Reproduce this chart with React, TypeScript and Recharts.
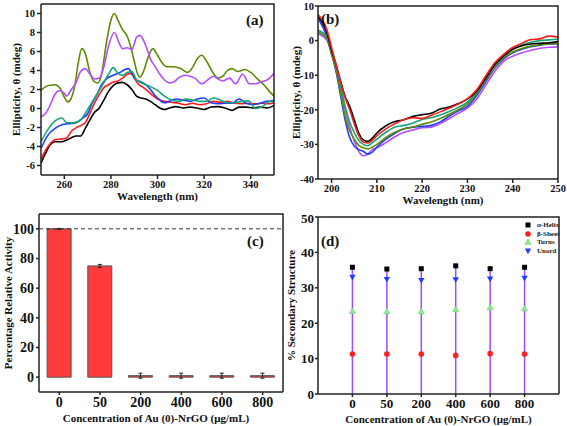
import {
  LineChart,
  Line,
  XAxis,
  YAxis,
  BarChart,
  Bar,
  ErrorBar,
  ReferenceLine,
  ScatterChart,
  Scatter,
  ZAxis,
  Legend,
  Label,
} from "recharts"

const FONT = "'Liberation Serif', 'Times New Roman', serif"

// (a) near-UV CD spectra, [wavelength, ellipticity]
const aBlack = [[250,-5.75],[252,-4.7],[254,-3.8],[256,-3.5],[259,-3.5],[262,-3.2],[265,-2.9],[267,-2.9],[269,-2.1],[271,-1.2],[273,-0.4],[275,0.05],[277,0.9],[279,1.8],[281,2.4],[283,2.7],[285,2.75],[287,2.5],[289,2.0],[291,1.3],[293,1.1],[295,1.0],[297,0.75],[299,0.4],[301,0.05],[303,-0.1],[305,0.05],[308,0.2],[311,0.05],[314,0.15],[317,0.05],[320,-0.1],[323,0.15],[326,0.2],[329,0.05],[332,-0.2],[335,0.15],[338,0.15],[341,0.05],[344,0.15],[347,0.05],[350,0.3]]
const aRed = [[250,-5.3],[253,-4.0],[256,-3.3],[259,-3.2],[261,-3.1],[263,-2.4],[266,-1.9],[269,-1.5],[271,-0.5],[273,0.6],[275,1.45],[277,2.2],[279,2.5],[281,2.8],[283,2.9],[285,3.2],[287,3.6],[288.5,3.7],[290,3.2],[292,2.5],[294,2.2],[296,1.8],[298,1.35],[300,1.0],[303,0.75],[306,0.65],[309,0.55],[312,0.4],[315,0.55],[318,0.4],[321,0.5],[324,0.75],[327,0.65],[330,0.75],[333,0.55],[336,0.5],[339,0.55],[342,0.5],[345,0.55],[348,0.5],[350,0.55]]
const aBlue = [[250,-4.2],[253,-2.8],[256,-2.1],[259,-1.7],[262,-1.6],[265,-1.5],[268,-1.0],[270,-0.55],[272,0.6],[274,1.45],[276,2.5],[278,3.1],[280,3.4],[282,3.6],[284,3.8],[286,4.1],[287.5,4.2],[289,3.7],[291,3.0],[293,2.8],[295,2.5],[297,2.0],[299,1.35],[301,0.9],[303,0.6],[305,0.75],[308,1.0],[311,0.9],[314,0.75],[317,1.0],[320,1.1],[323,0.6],[326,0.5],[329,0.55],[332,0.55],[335,1.0],[338,0.55],[341,0.4],[344,0.55],[347,0.75],[350,0.75]]
const aTeal = [[250,-3.5],[253,-2.2],[256,-1.3],[259,-1.0],[261,-1.5],[264,-1.5],[267,-1.2],[270,-0.1],[273,1.1],[276,2.3],[279,3.6],[281,4.3],[283,3.7],[285,3.5],[287,3.8],[289,3.9],[291,3.0],[294,2.6],[297,2.3],[300,1.9],[303,1.3],[306,0.9],[309,0.75],[312,1.0],[315,0.9],[318,0.75],[321,0.75],[324,1.1],[327,0.9],[330,0.6],[333,0.6],[336,0.75],[339,0.8],[342,0.0],[345,0.2],[348,0.75],[350,0.9]]
const aOlive = [[250,1.9],[252,2.3],[254,2.45],[256,2.5],[258,2.2],[260,1.2],[261.5,0.7],[263,1.1],[264.5,2.4],[266,4.8],[267.5,6.3],[269,5.8],[271,3.8],[273,2.8],[274.5,2.7],[276,3.6],[278,6.8],[280,9.3],[281.5,10],[283,9.3],[285,8.3],[287,7.6],[288.5,6.5],[290,5],[291.5,3.6],[292.5,3.3],[294,3.9],[296,5.4],[298,6.3],[300,5.6],[302,4.8],[304,4.4],[307,4.4],[310,4.2],[313,3.8],[315,4.3],[317,5.2],[319,5.6],[321,5.0],[323.5,3.9],[326,3.2],[328,3.4],[330,4.0],[332,4.2],[334.5,3.9],[337.5,4.1],[340,3.8],[343,3.1],[346,2.4],[348,1.8],[350,1.3]]
const aMagenta = [[250,-0.9],[252,-0.5],[254,0.4],[256,1.5],[258,1.9],[260,1.6],[261,1.3],[263,2.0],[265,2.7],[267,3.9],[269,4.2],[271,3.6],[273,3.1],[275,3.2],[277,4.4],[279,6.6],[281.5,8.0],[283.5,6.9],[285,6.3],[287,6.4],[289,6.2],[291,7.5],[292.5,7.7],[295,6.6],[297,5.2],[299,4.4],[301,3.6],[303,3.0],[305,2.7],[307,2.8],[309.5,3.3],[312,3.5],[314,3.4],[316,3.2],[319,2.6],[321,2.9],[324,3.4],[326,3.1],[328,2.9],[331,3.2],[333.5,2.6],[336.5,3.6],[339.5,2.6],[342,2.6],[344.5,2.8],[347,3.0],[350,3.7]]

// (b) far-UV CD spectra on a shared wavelength grid
const bWave = [197,199,200,201,202,203,204,205,206,207,208,209,210,212,214,216,218,220,222,224,226,228,230,232,234,236,238,240,242,244,246,248,250]
const bBlack = [7,2.1,-2.7,-7,-11.8,-16.2,-19,-22.9,-26.7,-28.7,-29.1,-28.2,-26.7,-24.6,-23.4,-22.9,-21.9,-21.4,-21.0,-19.8,-19.2,-18.2,-16.9,-14.7,-10.9,-7,-4.4,-2.5,-1.5,-1.0,-0.8,-0.6,-0.3]
const bRed = [7.5,3,-2,-7,-12,-16.5,-20,-24,-27.5,-29.3,-29.6,-28.8,-27.5,-25.5,-24,-22.8,-22.3,-22.5,-21.6,-20.6,-19.5,-18.3,-16.8,-14.3,-10.3,-6.5,-4,-2,-0.8,0.3,0.5,1.3,1.0]
const bTeal = [3,1,-3,-7.5,-13,-19,-23.5,-26.5,-28.8,-30,-30.4,-29.5,-28.5,-26.5,-25,-24.5,-23.8,-22.8,-22.3,-21.5,-20.5,-19.3,-17.8,-15,-11,-7.2,-4.5,-2.5,-1.3,-0.5,0,0.2,0.4]
const bOlive = [2.5,0.5,-4,-8.5,-15,-22,-26,-28.5,-30.3,-31,-31.3,-30.8,-30,-28,-26.5,-25.5,-25,-24.2,-23.5,-22.5,-21.3,-20,-18.3,-15.5,-11.5,-7.8,-5,-3.3,-2.3,-1.6,-1.2,-1,-0.8]
const bBlue = [6.5,1,-3.5,-9,-16,-23,-28,-30.5,-31.5,-32,-32.8,-32.2,-30.8,-28.5,-26.8,-25.5,-25,-24.8,-24.5,-23.5,-21.8,-20.3,-19,-16,-12,-8,-5.3,-3.5,-2.5,-1.8,-1.3,-1,-1]
const bMagenta = [2,0,-4,-8.5,-14,-20,-25,-29,-32,-33.3,-32.8,-31.5,-31,-29.5,-27.8,-26.5,-25.8,-25.2,-25,-24,-22.5,-21,-19.5,-17,-13,-9,-6,-4.5,-3.5,-2.8,-2.2,-1.9,-1.8]

// (c) relative activity
const concLabels = ["0", "50", "200", "400", "600", "800"]
const activity = [100, 75, 1, 1, 1, 1]
const activityErr = [0.3, 1, 1.7, 1.7, 1.7, 1.7]

// (d) secondary structure
const structNames = ["α-Helix", "β-Sheet", "Turns", "Unord"]
const helix = [35.8, 35.3, 35.4, 36.2, 35.4, 35.8]
const sheet = [11.3, 11.3, 11.3, 10.9, 11.4, 11.3]
const turns = [23.4, 23.3, 23.3, 23.9, 24.5, 24.1]
const unord = [33.0, 32.4, 32.1, 32.3, 32.5, 32.7]

const COLORS = {
  black: "#000000",
  red: "#ff1a1a",
  blue: "#1f3cff",
  teal: "#14a67a",
  olive: "#5e8a00",
  magenta: "#b84dff",
}

const toPts = (arr: number[][]) => arr.map(([x, y]) => ({ x, y }))
const gridPts = (ys: number[]) => ys.map((y, i) => ({ x: bWave[i], y }))

const aSeries = [
  { key: "black", data: toPts(aBlack) },
  { key: "red", data: toPts(aRed) },
  { key: "blue", data: toPts(aBlue) },
  { key: "teal", data: toPts(aTeal) },
  { key: "olive", data: toPts(aOlive) },
  { key: "magenta", data: toPts(aMagenta) },
]
const bSeries = [
  { key: "magenta", data: gridPts(bMagenta) },
  { key: "blue", data: gridPts(bBlue) },
  { key: "olive", data: gridPts(bOlive) },
  { key: "teal", data: gridPts(bTeal) },
  { key: "black", data: gridPts(bBlack) },
  { key: "red", data: gridPts(bRed) },
]

const barData = concLabels.map((c, i) => ({ name: c, value: activity[i], err: activityErr[i] }))
const structData = (vals: number[]) => vals.map((y, i) => ({ x: i, y, drop: [y, 0] }))

const tickStyle = (size: number) => ({ fontSize: size, fontFamily: FONT, fontWeight: "bold", fill: "#111" })
const titleStyle = { fontSize: 11, fontFamily: FONT, fontWeight: "bold", fill: "#111" }
const AX = "#222"
const AXW = 1.5

// top + right edges of each plot box, drawn as an svg overlay over the chart
function Frame({ left, top, width, height }: { left: number; top: number; width: number; height: number }) {
  return (
    <svg width={width + 4} height={height + 4} style={{ position: "absolute", left: left - 2, top: top - 2, pointerEvents: "none", overflow: "visible" }}>
      <polyline points={`2,2 ${width + 2},2 ${width + 2},${height + 2}`} fill="none" stroke={AX} strokeWidth={AXW} />
    </svg>
  )
}

function Marker({ kind, cx, cy }: { kind: number; cx: number; cy: number }) {
  if (kind === 0) return <rect x={cx - 2.5} y={cy - 2.5} width={5} height={5} fill="#000" />
  if (kind === 1) return <circle cx={cx} cy={cy} r={2.8} fill="#ff2020" />
  if (kind === 2)
    return <path d={`M${cx},${cy - 3.2}L${cx + 3.2},${cy + 2.4}L${cx - 3.2},${cy + 2.4}Z`} fill="#8fe88f" stroke="#6ccf6c" strokeWidth={0.5} />
  return <path d={`M${cx},${cy + 3.2}L${cx + 3.2},${cy - 2.4}L${cx - 3.2},${cy - 2.4}Z`} fill="#1f3cff" />
}

function StructLegend() {
  return (
    <div style={{ fontFamily: FONT, fontSize: 7, fontWeight: "bold", color: "#222", lineHeight: "8.5px" }}>
      {structNames.map((n, i) => (
        <div key={n} style={{ display: "flex", alignItems: "center", height: 8.5 }}>
          <svg width={8} height={8} style={{ flex: "none" }}>
            <Marker kind={i} cx={4} cy={4} />
          </svg>
          <span style={{ marginLeft: 5 }}>{n}</span>
        </div>
      ))}
    </div>
  )
}

const tag = (text: string, left: number, top: number) => (
  <div style={{ position: "absolute", left, top, fontFamily: FONT, fontWeight: "bold", fontSize: 15, color: "#111" }}>
    {text}
  </div>
)

export default function App() {
  return (
    <div style={{ position: "absolute", left: 0, top: 0, width: 567, height: 426, background: "#fff" }}>
      {/* (a) */}
      <div style={{ position: "absolute", left: 0, top: 0 }}>
        <LineChart width={285} height={210} margin={{ top: 4, right: 11, bottom: 0, left: 0 }}>
          <XAxis type="number" dataKey="x" domain={[250, 350]} ticks={[260, 280, 300, 320, 340]} allowDuplicatedCategory={false}
            height={35} stroke={AX} strokeWidth={AXW} tickSize={4} tick={tickStyle(10.5)}>
            <Label value="Wavelength (nm)" position="center" dy={4} style={titleStyle} />
          </XAxis>
          <YAxis type="number" domain={[-7, 11]} ticks={[-6, -4, -2, 0, 2, 4, 6, 8, 10]} width={41}
            stroke={AX} strokeWidth={AXW} tickSize={4} tick={tickStyle(10.5)}>
            <Label value="Ellipticity, θ (mdeg)" angle={-90} position="center" dx={-4} style={titleStyle} />
          </YAxis>
          {aSeries.map((s) => (
            <Line key={s.key} data={s.data} dataKey="y" type="monotone" stroke={COLORS[s.key as keyof typeof COLORS]}
              strokeWidth={1.6} dot={false} isAnimationActive={false} />
          ))}
        </LineChart>
        <Frame left={41} top={4} width={233} height={171} />
        {tag("(a)", 246, 12)}
      </div>

      {/* (b) */}
      <div style={{ position: "absolute", left: 285, top: 0 }}>
        <LineChart width={282} height={210} margin={{ top: 6, right: 9, bottom: 0, left: 0 }}>
          <XAxis type="number" dataKey="x" domain={[197, 250]} ticks={[200, 210, 220, 230, 240, 250]} allowDuplicatedCategory={false}
            height={31} stroke={AX} strokeWidth={AXW} tickSize={4} tick={tickStyle(10.5)}>
            <Label value="Wavelength (nm)" position="center" dy={6} dx={5} style={titleStyle} />
          </XAxis>
          <YAxis type="number" domain={[-40, 10]} ticks={[-40, -30, -20, -10, 0, 10]} width={33}
            stroke={AX} strokeWidth={AXW} tickSize={3} tickMargin={1} tick={tickStyle(10.5)}>
            <Label value="Ellipticity, θ (mdeg)" angle={-90} position="center" dx={-5} style={titleStyle} />
          </YAxis>
          {bSeries.map((s) => (
            <Line key={s.key} data={s.data} dataKey="y" type="monotone" stroke={COLORS[s.key as keyof typeof COLORS]}
              strokeWidth={1.6} dot={false} isAnimationActive={false} />
          ))}
        </LineChart>
        <Frame left={33} top={6} width={240} height={173} />
        {tag("(b)", 36, 11)}
      </div>

      {/* (c) */}
      <div style={{ position: "absolute", left: 0, top: 210 }}>
        <BarChart width={285} height={216} data={barData} margin={{ top: 4, right: 2, bottom: 0, left: 0 }} barCategoryGap="20%">
          <XAxis dataKey="name" height={34} stroke={AX} strokeWidth={AXW} tickSize={3} tick={tickStyle(14)}>
            <Label value="Concentration of Au (0)-NrGO (μg/mL)" position="center" dy={9} dx={-5} style={titleStyle} />
          </XAxis>
          <YAxis type="number" domain={[-10, 110]} ticks={[0, 20, 40, 60, 80, 100]} width={39}
            stroke={AX} strokeWidth={AXW} tickSize={3} tickMargin={2} tick={tickStyle(14)}>
            <Label value="Percentage Relative Activity" angle={-90} position="center" dx={-11} style={titleStyle} />
          </YAxis>
          <ReferenceLine y={100} stroke="#333" strokeDasharray="4 3" strokeWidth={1} />
          <Bar dataKey="value" fill="#ff3b3b" stroke="#555" strokeWidth={1} isAnimationActive={false}>
            <ErrorBar dataKey="err" width={2} stroke="#222" strokeWidth={1} />
          </Bar>
        </BarChart>
        <Frame left={39} top={4} width={244} height={178} />
        {tag("(c)", 247, 23)}
      </div>

      {/* (d) */}
      <div style={{ position: "absolute", left: 285, top: 210 }}>
        <ScatterChart width={282} height={216} margin={{ top: 7, right: 8, bottom: 0, left: 0 }}>
          <XAxis type="number" dataKey="x" domain={[-1, 6]} ticks={[0, 1, 2, 3, 4, 5]} tickFormatter={(v) => concLabels[v]}
            height={32} stroke={AX} strokeWidth={AXW} tickSize={3} tick={tickStyle(13)}>
            <Label value="Concentration of Au (0)-NrGO (μg/mL)" position="center" dy={9} style={titleStyle} />
          </XAxis>
          <YAxis type="number" dataKey="y" domain={[0, 50]} ticks={[0, 10, 20, 30, 40, 50]} width={33}
            stroke={AX} strokeWidth={AXW} tickSize={3} tickMargin={1} tick={tickStyle(13)}>
            <Label value="% Secondary Structure" angle={-90} position="center" dx={-10} style={titleStyle} />
          </YAxis>
          <ZAxis range={[25, 25]} />
          <Legend layout="vertical" align="center" verticalAlign="middle" content={() => <StructLegend />}
            wrapperStyle={{ top: 11, left: 239, width: 45, height: 36 }} />
          <Scatter name={structNames[0]} data={structData(helix)} isAnimationActive={false}
            shape={(p: any) => <Marker kind={0} cx={p.cx} cy={p.cy} />}>
            <ErrorBar dataKey="drop" direction="y" width={0} stroke="#9b4dff" strokeWidth={1.5} />
          </Scatter>
          <Scatter name={structNames[1]} data={structData(sheet)} isAnimationActive={false}
            shape={(p: any) => <Marker kind={1} cx={p.cx} cy={p.cy} />} />
          <Scatter name={structNames[2]} data={structData(turns)} isAnimationActive={false}
            shape={(p: any) => <Marker kind={2} cx={p.cx} cy={p.cy} />} />
          <Scatter name={structNames[3]} data={structData(unord)} isAnimationActive={false}
            shape={(p: any) => <Marker kind={3} cx={p.cx} cy={p.cy} />} />
        </ScatterChart>
        <Frame left={33} top={7} width={241} height={177} />
        {tag("(d)", 36, 23)}
      </div>
    </div>
  )
}
